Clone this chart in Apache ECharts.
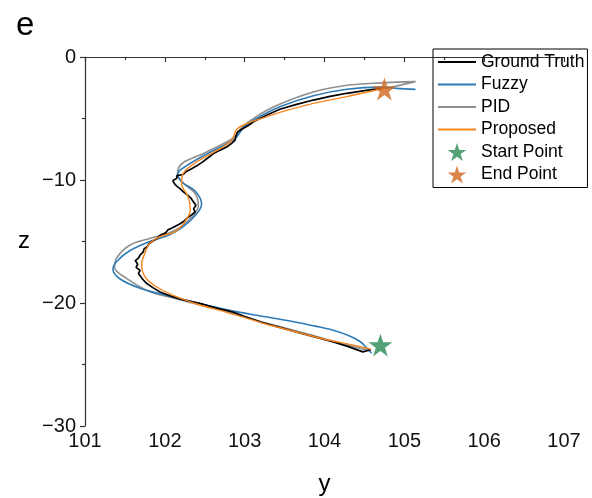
<!DOCTYPE html>
<html>
<head>
<meta charset="utf-8">
<style>
  html, body { margin: 0; padding: 0; background: #fff; }
  #chart { width: 592px; height: 498px; }
</style>
<script src="https://cdn.jsdelivr.net/npm/echarts@6/dist/echarts.min.js"></script>
</head>
<body>
<div id="chart"></div>
<script>
// Trajectories in the y–z plane, each as [y, z] pairs ordered from start to end.
const groundTruth = [
  [104.58,-23.80],[104.60,-23.95],[104.48,-23.97],[104.46,-23.85],[104.30,-23.55],[104.10,-23.15],
  [103.90,-22.80],[103.69,-22.44],[103.45,-22.00],[103.20,-21.55],[103.00,-21.10],[102.86,-20.75],
  [102.65,-20.42],[102.45,-20.05],[102.23,-19.75],[102.08,-19.45],[101.94,-19.10],[101.85,-18.75],
  [101.77,-18.40],[101.72,-18.05],[101.67,-17.60],[101.69,-17.35],[101.64,-17.10],[101.66,-16.85],
  [101.63,-16.55],[101.67,-16.35],[101.69,-16.10],[101.73,-15.85],[101.74,-15.60],[101.78,-15.40],
  [101.80,-15.20],[101.84,-15.00],[101.90,-14.75],[101.94,-14.50],[102.01,-14.30],[102.04,-14.05],
  [102.09,-13.90],[102.18,-13.60],[102.24,-13.35],[102.27,-13.15],[102.33,-12.85],[102.38,-12.60],
  [102.36,-12.35],[102.39,-12.05],[102.36,-11.80],[102.33,-11.50],[102.29,-11.25],[102.24,-11.00],
  [102.19,-10.70],[102.15,-10.50],[102.12,-10.30],[102.10,-10.05],[102.15,-9.85],[102.15,-9.65],
  [102.23,-9.55],[102.27,-9.30],[102.33,-9.10],[102.40,-8.85],[102.47,-8.55],[102.55,-8.15],
  [102.61,-7.85],[102.70,-7.55],[102.78,-7.30],[102.84,-7.00],[102.88,-6.75],[102.89,-6.45],
  [102.91,-6.10],[102.97,-5.85],[103.05,-5.55],[103.11,-5.26],[103.28,-4.72],[103.44,-4.25],
  [103.65,-3.85],[103.86,-3.50],[104.07,-3.20],[104.28,-2.95],[104.50,-2.74],[104.72,-2.55]
];

const fuzzy = [
  [104.59,-24.08],[104.52,-23.60],[104.45,-23.15],[104.30,-22.65],[104.11,-22.22],[103.90,-21.90],
  [103.60,-21.50],[103.15,-21.00],[102.80,-20.58],[102.44,-20.05],[102.02,-19.38],[101.69,-18.80],
  [101.44,-18.05],[101.35,-17.25],[101.40,-16.60],[101.56,-15.75],[101.81,-15.00],[102.06,-14.45],
  [102.23,-13.80],[102.40,-12.75],[102.46,-11.95],[102.38,-10.90],[102.22,-10.20],[102.16,-9.50],
  [102.27,-8.85],[102.55,-7.80],[102.78,-7.05],[102.90,-6.50],[102.99,-5.70],[103.15,-5.00],
  [103.44,-4.05],[103.86,-3.15],[104.28,-2.62],[104.70,-2.45],[104.90,-2.55],[105.14,-2.63]
];

const pid = [
  [104.55,-23.85],[104.25,-23.35],[104.00,-22.90],[103.60,-22.20],[103.20,-21.50],[102.86,-20.85],
  [102.44,-20.15],[102.10,-19.60],[101.80,-19.05],[101.52,-18.00],[101.37,-17.10],[101.40,-16.30],
  [101.56,-15.30],[101.81,-14.75],[102.02,-14.40],[102.18,-13.90],[102.34,-13.00],[102.42,-12.10],
  [102.38,-11.10],[102.24,-10.30],[102.16,-9.60],[102.17,-9.05],[102.25,-8.50],[102.44,-7.97],
  [102.72,-7.10],[102.88,-6.45],[102.97,-5.70],[103.12,-4.95],[103.40,-3.95],[103.86,-2.85],
  [104.28,-2.30],[104.70,-2.10],[105.14,-2.00],[104.86,-2.42],[104.75,-2.55]
];

const proposed = [
  [104.58,-23.75],[104.35,-23.40],[104.00,-22.95],[103.70,-22.45],[103.35,-21.85],[103.03,-21.25],
  [102.70,-20.62],[102.44,-20.16],[102.15,-19.50],[101.90,-18.70],[101.75,-17.85],[101.71,-16.80],
  [101.75,-15.96],[101.81,-15.15],[101.94,-14.60],[102.13,-14.20],[102.25,-13.40],[102.32,-12.40],
  [102.29,-11.35],[102.21,-10.30],[102.23,-9.46],[102.44,-8.37],[102.73,-7.30],[102.84,-6.75],
  [102.90,-5.90],[103.03,-5.40],[103.28,-4.85],[103.44,-4.50],[103.86,-3.77],[104.28,-3.22],
  [104.65,-2.68],[104.75,-2.60]
];

const startPoint = [[104.70, -23.42]];
const endPoint = [[104.75, -2.60]];

const xTicks = { min: 101, max: 107, step: 1 };
const zTicks = { min: -30, max: 0, step: 10 };

const legendNames = ['Ground Truth', 'Fuzzy', 'PID', 'Proposed', 'Start Point', 'End Point'];
const lineNames = ['Ground Truth', 'Fuzzy', 'PID', 'Proposed'];

// Five-pointed star marker
const STAR = 'path://M0,-50L11.23,-15.45L47.55,-15.45L18.16,5.9L29.39,40.45L0,19.1L-29.39,40.45L-18.16,5.9L-47.55,-15.45L-11.23,-15.45Z';

const FONT = '"Liberation Sans", Arial, sans-serif';
const AXIS_COLOR = '#333';
const minus = v => String(v).replace('-', '\u2212');

const lineSeries = (name, data, color, width, smooth, z) => ({
  name, type: 'line', data, smooth, showSymbol: false, symbol: 'none',
  lineStyle: { color, width }, itemStyle: { color }, z, animation: false
});

const chart = echarts.init(document.getElementById('chart'), null, { renderer: 'canvas' });

chart.setOption({
  animation: false,
  backgroundColor: '#fff',
  title: {
    text: 'e', left: 11, top: 4,
    textStyle: { fontFamily: FONT, fontSize: 33, fontWeight: 'normal', color: '#000' }
  },
  grid: { left: 85, right: 28, top: 57, bottom: 72, outerBoundsMode: 'none', containLabel: false },
  xAxis: {
    type: 'value', min: xTicks.min, max: xTicks.max, interval: xTicks.step,
    name: 'y', nameLocation: 'middle', nameGap: 46,
    nameTextStyle: { fontFamily: FONT, fontSize: 24, color: '#000' },
    axisLine: { show: true, lineStyle: { color: AXIS_COLOR, width: 1.2 } },
    axisTick: { show: true, length: 5, inside: false, lineStyle: { color: AXIS_COLOR, width: 1.2 } },
    minorTick: { show: true, splitNumber: 2, length: 3, lineStyle: { color: AXIS_COLOR, width: 1.2 } },
    splitLine: { show: false },
    axisLabel: { margin: 5, fontFamily: FONT, fontSize: 20, color: '#111', formatter: minus }
  },
  yAxis: {
    type: 'value', min: zTicks.min, max: zTicks.max, interval: zTicks.step,
    name: 'z', nameLocation: 'middle', nameGap: 55, nameRotate: 0,
    nameTextStyle: { fontFamily: FONT, fontSize: 24, color: '#000' },
    axisLine: { show: true, lineStyle: { color: AXIS_COLOR, width: 1.2 } },
    axisTick: { show: true, length: 5, inside: false, lineStyle: { color: AXIS_COLOR, width: 1.2 } },
    minorTick: { show: true, splitNumber: 2, length: 3, lineStyle: { color: AXIS_COLOR, width: 1.2 } },
    splitLine: { show: false },
    axisLabel: { margin: 9, fontFamily: FONT, fontSize: 20, color: '#111', formatter: minus }
  },
  legend: {
    orient: 'vertical', left: 433, top: 49,
    padding: [4, 3, 4, 4], itemGap: 4.5, itemWidth: 38, itemHeight: 18,
    borderColor: '#000', borderWidth: 1, borderRadius: 0,
    textStyle: { fontFamily: FONT, fontSize: 17.5, color: '#000' },
    // line entries show only the stroke, no marker dot
    data: legendNames.map(name => lineNames.includes(name)
      ? { name, itemStyle: { opacity: 0 } }
      : { name })
  },
  series: [
    lineSeries('PID', pid, '#8f8f8f', 1.6, 0.35, 2),
    lineSeries('Fuzzy', fuzzy, '#2f7bb6', 1.6, 0.35, 3),
    lineSeries('Ground Truth', groundTruth, '#000000', 1.7, false, 4),
    lineSeries('Proposed', proposed, '#f7861e', 1.4, 0.35, 5),
    {
      name: 'Start Point', type: 'scatter', data: startPoint,
      symbol: STAR, symbolSize: 24, symbolKeepAspect: true,
      itemStyle: { color: '#2a8a55' }, z: 6
    },
    {
      name: 'End Point', type: 'scatter', data: endPoint,
      symbol: STAR, symbolSize: 24, symbolKeepAspect: true,
      itemStyle: { color: '#d2691e' }, z: 6
    }
  ]
});
</script>
</body>
</html>
